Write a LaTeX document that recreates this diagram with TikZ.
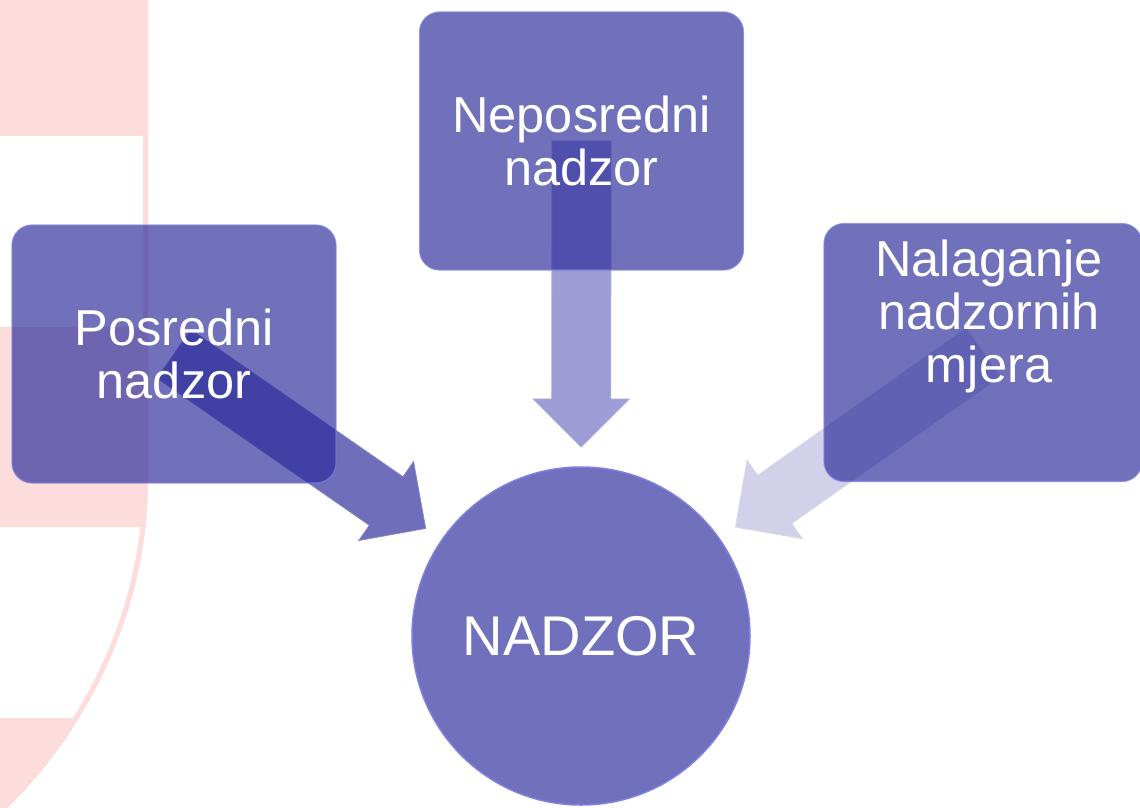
\documentclass[tikz,border=0pt]{standalone}
\usepackage{fontspec}
\setmainfont{Liberation Sans}
\usetikzlibrary{calc}
\pgfdeclarelayer{background}
\pgfsetlayers{background,main}
\definecolor{shieldpink}{RGB}{253,220,220}
\definecolor{boxcol}{RGB}{42,42,155}
\definecolor{circcol}{RGB}{112,112,188}
\definecolor{arrowA}{RGB}{110,110,186}
\definecolor{arrowB}{RGB}{157,157,213}
\definecolor{arrowC}{RGB}{209,209,233}
\definecolor{rimcol}{RGB}{128,128,226}
\tikzset{
  srcbox/.style={rectangle, rounded corners=20pt, fill=boxcol, fill opacity=0.67,
    text opacity=1, draw=rimcol, draw opacity=0.7, line width=1.2pt,
    minimum width=324pt, minimum height=258pt, inner sep=0pt},
  boxtext/.style={text=white, align=center, font=\fontsize{50.5}{53}\selectfont, inner sep=0pt},
  hub/.style={circle, fill=circcol, draw=rimcol, line width=1.5pt, minimum size=338pt,
    text=white, font=\fontsize{56}{64}\selectfont, inner sep=0pt},
  arrowpart/.style={draw=#1!85!white, line width=0.8pt, fill=#1},
}
\newcommand{\blockarr}[3]{%
  \coordinate (tip) at ($(#2.center)!189pt!(#1.center)$);
  \coordinate (hb) at ($(tip)!48pt!(#1.center)$);
  \path[arrowpart=#3]
    ($(#1.center)!29.5pt!90:(tip)$) -- ($(hb)!29.5pt!90:(tip)$) --
    ($(hb)!48pt!90:(tip)$) -- (tip) -- ($(hb)!48pt!-90:(tip)$) --
    ($(hb)!29.5pt!-90:(tip)$) -- ($(#1.center)!29.5pt!-90:(tip)$) -- cycle;
}
\begin{document}
\begin{tikzpicture}[x=1pt,y=-1pt]
\useasboundingbox (0,0) rectangle (1140,808);
% nodes
\node[srcbox] (top) at (581.5,141) {};
\node[boxtext] (toplabel) at (top.center) {Neposredni\\nadzor};
\node[srcbox] (left) at (174,354) {};
\node[boxtext] (leftlabel) at (left.center) {Posredni\\nadzor};
\node[srcbox, minimum width=318pt] (right) at (983,352.5) {};
\node[boxtext] (rightlabel) at (989,316) {Nalaganje\\nadzornih\\mjera};
\node[hub] (hub) at (581,636) {NADZOR};
\begin{pgfonlayer}{background}
  \fill[white] (0,0) rectangle (1140,808);
  \begin{scope}
    \clip (0,0) -- (148,0) -- (148,480) .. controls (148,620) and (80,740) .. (0,815) -- cycle;
    \fill[shieldpink] (0,0) rectangle (150,136);
    \fill[shieldpink] (0,327) rectangle (150,527);
    \fill[shieldpink] (0,718) rectangle (150,820);
    \draw[shieldpink, line width=10pt] (148,-5) -- (148,480) .. controls (148,620) and (80,740) .. (0,815);
  \end{scope}
  \blockarr{left}{hub}{arrowA}
  \blockarr{top}{hub}{arrowB}
  \blockarr{right}{hub}{arrowC}
\end{pgfonlayer}
\end{tikzpicture}
\end{document}
